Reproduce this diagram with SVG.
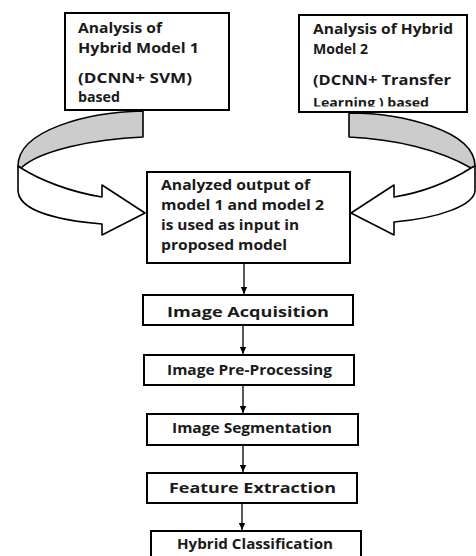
<svg xmlns="http://www.w3.org/2000/svg" width="476" height="556" viewBox="0 0 476 556">
<style>
.box{fill:#fff;stroke:#000;stroke-width:2}
.t{font-family:"Open Sans","Liberation Sans",sans-serif;font-weight:bold;fill:#1a1a1a}
.tm{font-family:"Open Sans","Liberation Sans",sans-serif;font-weight:bold;fill:#1a1a1a;text-anchor:middle}
.back{fill:#cccccc;stroke:#000;stroke-width:1.6;stroke-linejoin:round}
.front{fill:#fff;stroke:#000;stroke-width:1.6;stroke-linejoin:round}
.conn{stroke:#000;stroke-width:1.3;fill:none}
</style>
<defs>
<marker id="ah" markerWidth="8" markerHeight="8" refX="7" refY="4" orient="auto" markerUnits="userSpaceOnUse">
<path d="M0,0.8 L7,4 L0,7.2 Z" fill="#000"/>
</marker>
<clipPath id="clip2"><rect x="299" y="15" width="168" height="91.5"/></clipPath>
</defs>
<rect width="476" height="556" fill="#fff"/>

<g id="curved-arrow-left">
<path class="back" d="M143,111 L143,137 C95,139 40,150 21,168 L18,166 C18,130 88,112 143,111 Z"/>
<path class="front" d="M21,168 C40,180 70,192 102,197 L102,185 L145,213 L102,235 L102,224 C55,220 18,210 18,190 L18,166 Z"/>
</g>
<g id="curved-arrow-right">
<path class="back" d="M349,113 L349,137 C395,139 440,150 471,168 L475,166 C475,130 400,113 349,113 Z"/>
<path class="front" d="M471,168 C452,180 425,192 394,197 L394,185 L351,213 L394,235 L394,222 C440,218 475,205 475,190 L475,166 Z"/>
</g>

<g id="model1">
<rect class="box" x="65" y="13" width="164" height="97"/>
<text class="t" font-size="14" x="78" y="33" textLength="84" lengthAdjust="spacingAndGlyphs">Analysis of</text>
<text class="t" font-size="14" x="78" y="53" textLength="121" lengthAdjust="spacingAndGlyphs">Hybrid Model 1</text>
<text class="t" font-size="14" x="78" y="83" textLength="114" lengthAdjust="spacingAndGlyphs">(DCNN+ SVM)</text>
<text class="t" font-size="14" x="78" y="102" textLength="42" lengthAdjust="spacingAndGlyphs">based</text>
</g>

<g id="model2">
<rect class="box" x="299" y="15" width="168" height="97"/>
<text class="t" font-size="14" x="313" y="34" textLength="140" lengthAdjust="spacingAndGlyphs">Analysis of Hybrid</text>
<text class="t" font-size="14" x="313" y="54" textLength="55" lengthAdjust="spacingAndGlyphs">Model 2</text>
<text class="t" font-size="14" x="313" y="85" textLength="138" lengthAdjust="spacingAndGlyphs">(DCNN+ Transfer</text>
<text class="t" font-size="12.5" x="313" y="107" textLength="116" lengthAdjust="spacingAndGlyphs" clip-path="url(#clip2)">Learning ) based</text>
</g>

<g id="combined">
<rect class="box" x="147" y="172" width="203" height="91"/>
<text class="t" font-size="14.5" x="161" y="190" textLength="149" lengthAdjust="spacingAndGlyphs">Analyzed output of</text>
<text class="t" font-size="14.5" x="161" y="210" textLength="163" lengthAdjust="spacingAndGlyphs">model 1 and model 2</text>
<text class="t" font-size="14.5" x="161" y="230" textLength="138" lengthAdjust="spacingAndGlyphs">is used as input in</text>
<text class="t" font-size="14.5" x="161" y="250" textLength="126" lengthAdjust="spacingAndGlyphs">proposed model</text>
</g>

<g id="acquisition">
<rect class="box" x="143" y="295" width="210" height="30"/>
<text class="tm" font-size="15" x="248" y="317" textLength="162" lengthAdjust="spacingAndGlyphs">Image Acquisition</text>
</g>
<g id="preprocessing">
<rect class="box" x="144" y="355" width="210" height="30"/>
<text class="tm" font-size="13.5" x="249.5" y="375" textLength="165" lengthAdjust="spacingAndGlyphs">Image Pre-Processing</text>
</g>
<g id="segmentation">
<rect class="box" x="147" y="414" width="211" height="31"/>
<text class="tm" font-size="13.5" x="252" y="433" textLength="160" lengthAdjust="spacingAndGlyphs">Image Segmentation</text>
</g>
<g id="feature">
<rect class="box" x="147" y="473" width="210" height="30"/>
<text class="tm" font-size="15" x="252.5" y="493" textLength="167" lengthAdjust="spacingAndGlyphs">Feature Extraction</text>
</g>
<g id="classification">
<rect class="box" x="151" y="531" width="210" height="32"/>
<text class="tm" font-size="13.5" x="255" y="549" textLength="156" lengthAdjust="spacingAndGlyphs">Hybrid Classification</text>
</g>

<g id="connectors">
<line class="conn" x1="244" y1="264" x2="244" y2="294" marker-end="url(#ah)"/>
<line class="conn" x1="243" y1="326" x2="243" y2="354" marker-end="url(#ah)"/>
<line class="conn" x1="243" y1="386" x2="243" y2="413" marker-end="url(#ah)"/>
<line class="conn" x1="243" y1="446" x2="243" y2="472" marker-end="url(#ah)"/>
<line class="conn" x1="242" y1="504" x2="242" y2="530" marker-end="url(#ah)"/>
</g>
</svg>
